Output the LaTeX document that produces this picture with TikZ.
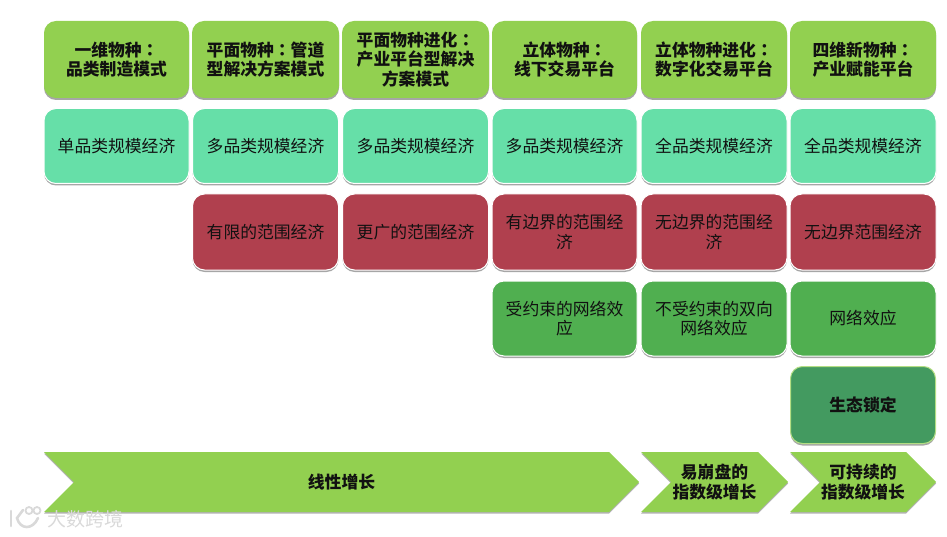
\documentclass[tikz,border=0pt]{standalone}
\usepackage{fontspec}
\setmainfont{Noto Sans CJK SC}
\newfontfamily\tcfont{Noto Sans CJK TC}
\newcommand{\cnColon}{{\tcfont\bfseries ：}}
\usetikzlibrary{shapes.symbols,shadows}
\definecolor{cHead}{HTML}{92D050}
\definecolor{cTeal}{HTML}{66DFA8}
\definecolor{cRed}{HTML}{B0404E}
\definecolor{cGreen}{HTML}{50AF50}
\definecolor{cDark}{HTML}{439A60}
\definecolor{cTxt}{HTML}{111111}
\definecolor{cMark}{HTML}{D9D9D9}
\tikzset{
  x=1pt,y=-1pt,
  base/.style={rounded corners=12pt,align=center,inner sep=0pt,text=cTxt,
    font=\fontsize{16.8}{19.5}\selectfont,
    drop shadow={shadow xshift=0pt,shadow yshift=-2pt,opacity=.35,fill=black}},
  head/.style={base,fill=cHead,minimum height=77pt,font=\fontsize{16.8}{19.5}\selectfont\bfseries},
  teal/.style={base,fill=cTeal,draw=white,line width=1pt,minimum height=75pt},
  redbox/.style={base,fill=cRed,draw=white,line width=1pt,minimum height=76pt},
  greenbox/.style={base,fill=cGreen,draw=white,line width=1pt,minimum height=75pt},
  darkbox/.style={base,fill=cDark,draw=cHead!70!white,line width=1pt,minimum height=77pt,font=\fontsize{16.8}{19.5}\selectfont\bfseries},
  chev/.style={shape=signal,signal from=west,signal to=east,signal pointer angle=90,
    fill=cHead,align=center,inner sep=0pt,text=cTxt,minimum height=60pt,
    font=\fontsize{16.8}{19.5}\selectfont\bfseries,
    drop shadow={shadow xshift=0pt,shadow yshift=-1.5pt,opacity=.3,fill=black}},
  marktext/.style={text=cMark,font=\fontsize{19}{20}\selectfont,inner sep=0pt},
  logoline/.style={draw=cMark,line width=2.6pt,line cap=round}
}
\begin{document}
\begin{tikzpicture}
\useasboundingbox (0,0) rectangle (947,537);
% header row
\node[head,minimum width=145pt] (h1) at (116.5,59.5) {一维物种\cnColon\\品类制造模式};
\node[head,minimum width=147pt] (h2) at (265.5,59.5) {平面物种\cnColon 管道\\型解决方案模式};
\node[head,minimum width=147pt] (h3) at (415.5,59.5) {平面物种进化\cnColon\\产业平台型解决\\方案模式};
\node[head,minimum width=145pt] (h4) at (564.5,59.5) {立体物种\cnColon\\线下交易平台};
\node[head,minimum width=146pt] (h5) at (714,59.5) {立体物种进化\cnColon\\数字化交易平台};
\node[head,minimum width=146pt] (h6) at (863,59.5) {四维新物种\cnColon\\产业赋能平台};
% row 2
\node[teal,minimum width=145pt] (a1) at (116.5,146) {单品类规模经济};
\node[teal,minimum width=146pt] (a2) at (265.5,146) {多品类规模经济};
\node[teal,minimum width=146pt] (a3) at (415.5,146) {多品类规模经济};
\node[teal,minimum width=145pt] (a4) at (564.5,146) {多品类规模经济};
\node[teal,minimum width=146pt] (a5) at (714,146) {全品类规模经济};
\node[teal,minimum width=146pt] (a6) at (863,146) {全品类规模经济};
% row 3
\node[redbox,minimum width=146pt] (b2) at (265.5,232) {有限的范围经济};
\node[redbox,minimum width=146pt] (b3) at (415.5,232) {更广的范围经济};
\node[redbox,minimum width=145pt] (b4) at (564.5,232) {有边界的范围经\\济};
\node[redbox,minimum width=146pt] (b5) at (714,232) {无边界的范围经\\济};
\node[redbox,minimum width=146pt] (b6) at (863,232) {无边界范围经济};
% row 4
\node[greenbox,minimum width=145pt] (c4) at (564.5,318.5) {受约束的网络效\\应};
\node[greenbox,minimum width=146pt] (c5) at (714,318.5) {不受约束的双向\\网络效应};
\node[greenbox,minimum width=146pt] (c6) at (863,318.5) {网络效应};
% row 5
\node[darkbox,minimum width=145pt] (d6) at (863,405) {生态锁定};
% chevrons
\node[chev,minimum width=595pt] (e1) at (341.5,482) {线性增长};
\node[chev,minimum width=147pt] (e2) at (714.5,482) {易崩盘的\\指数级增长};
\node[chev,minimum width=146pt] (e3) at (863,482) {可持续的\\指数级增长};
% watermark
\draw[logoline] (11,511) -- (11,526);
\draw[logoline] (23,510) -- (17,518) .. controls (20,530) and (33,530) .. (38,518);
\draw[draw=cMark,line width=1.8pt] (29,510.5) circle (3.5) (37,510.5) circle (3.5);
\node[marktext,anchor=west] (w) at (47,519) {大数跨境};
\end{tikzpicture}
\end{document}
